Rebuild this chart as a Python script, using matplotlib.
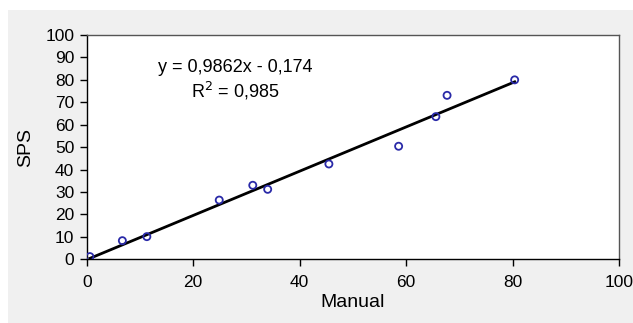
import matplotlib
matplotlib.use("Agg")
import matplotlib.pyplot as plt
import matplotlib.patches as patches
import numpy as np

plt.rcParams['font.family'] = ['Liberation Sans', 'DejaVu Sans']

manual = [0.6, 6.7, 11.3, 24.9, 31.2, 34.0, 45.5, 58.6, 65.6, 67.7, 80.4]
sps = [1.2, 8.3, 10.1, 26.4, 33.0, 31.2, 42.5, 50.4, 63.6, 73.1, 80.0]
slope, intercept = 0.9862, -0.174
eq_text = "y = 0,9862x - 0,174"
r2_text = "R$^{2}$ = 0,985"
x_ticks = [0, 20, 40, 60, 80, 100]
y_ticks = list(range(0, 101, 10))

W, H = 633, 323
fig = plt.figure(figsize=(W / 100, H / 100), dpi=100, facecolor='white')
fig.patches.append(patches.Rectangle((8 / W, 0), 1, (H - 10) / H,
                                     transform=fig.transFigure,
                                     facecolor='#f0f0f0', edgecolor='none', zorder=-10))

ax = fig.add_axes([86.7 / W, 1 - 259.3 / H, (619 - 86.7) / W, (259.3 - 35) / H])
ax.set_facecolor('white')

xs = np.array([min(manual), max(manual)])
ax.plot(xs, slope * xs + intercept, color='black', lw=2, zorder=2)
ax.scatter(manual, sps, s=26, facecolors='none', edgecolors='#2a2aa8', linewidths=1.3, zorder=3)

ax.set_xlim(0, 100)
ax.set_ylim(0, 100)
ax.set_xticks(x_ticks)
ax.set_yticks(y_ticks)
ax.tick_params(axis='both', direction='out', length=5, width=1, labelsize=12.5, colors='black', pad=4)
ax.tick_params(axis='x', pad=6)

for s in ['left', 'bottom']:
    ax.spines[s].set_color('black')
    ax.spines[s].set_linewidth(1)
for s in ['top', 'right']:
    ax.spines[s].set_color('#555555')
    ax.spines[s].set_linewidth(1)

ax.set_xlabel('Manual', fontsize=14, labelpad=3)
ax.set_ylabel('SPS', fontsize=14, labelpad=8)

ax.text(235 / W, 1 - 68 / H, eq_text, transform=fig.transFigure, ha='center', va='center', fontsize=13)
ax.text(235.5 / W, 1 - 90.7 / H, r2_text, transform=fig.transFigure, ha='center', va='center', fontsize=13)

fig.savefig('out.png', dpi=100, facecolor='white')
